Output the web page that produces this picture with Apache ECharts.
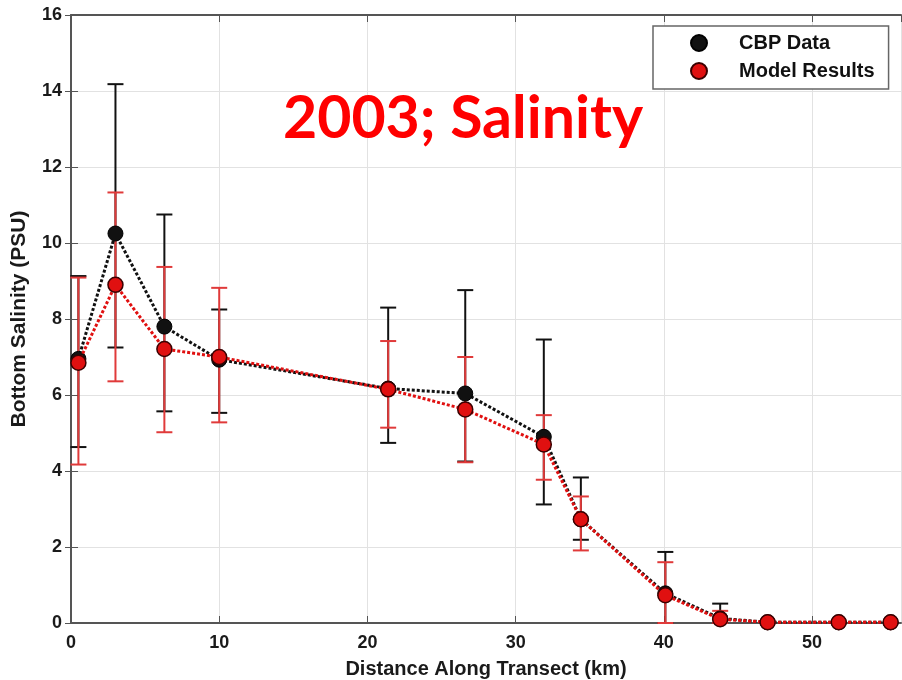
<!DOCTYPE html>
<html>
<head>
<meta charset="utf-8">
<script src="https://cdn.jsdelivr.net/npm/echarts@6/dist/echarts.min.js"></script>
<style>
html,body{margin:0;padding:0;background:#fff;}
#chart{width:902px;height:680px;}
</style>
</head>
<body>
<div id="chart"></div>
<script>
// ---- data ----
const distance   = [0.5, 3.0, 6.3, 10.0, 21.4, 26.6, 31.9, 34.4, 40.1, 43.8, 47.0, 51.8, 55.3];
const cbpMean    = [6.95, 10.25, 7.80, 6.93, 6.17, 6.04, 4.90, 2.73, 0.78, 0.12, 0.02, 0.02, 0.02];
const cbpLow     = [4.63, 7.25, 5.57, 5.53, 4.74, 4.25, 3.12, 2.19, 0.00, 0.00, null, null, null];
const cbpHigh    = [9.13, 14.18, 10.75, 8.25, 8.30, 8.76, 7.46, 3.83, 1.87, 0.51, null, null, null];
const modelMean  = [6.85, 8.90, 7.21, 7.00, 6.15, 5.62, 4.70, 2.73, 0.73, 0.10, 0.02, 0.02, 0.02];
const modelLow   = [4.17, 6.36, 5.02, 5.28, 5.14, 4.23, 3.77, 1.91, 0.00, 0.00, null, null, null];
const modelHigh  = [9.09, 11.33, 9.37, 8.82, 7.42, 7.00, 5.47, 3.33, 1.60, 0.32, null, null, null];
const seriesNames = ['CBP Data', 'Model Results'];
const annotation = '2003; Salinity';
const xTitle = 'Distance Along Transect (km)';
const yTitle = 'Bottom Salinity (PSU)';

const BLACK = '#111111';
const RED = '#e01010';
const RED_BAR = '#e03a3a';
const AXIS = '#555555';
const FONT = '"Liberation Sans", Arial, sans-serif';

function pairs(xs, ys) { return xs.map((x, i) => [x, ys[i]]); }
function bars(xs, lo, hi) {
  const out = [];
  xs.forEach((x, i) => { if (lo[i] != null && hi[i] != null) out.push([x, lo[i], hi[i]]); });
  return out;
}
function errRender(color) {
  return function (params, api) {
    const x = api.value(0), lo = api.value(1), hi = api.value(2);
    const pLo = api.coord([x, lo]);
    const pHi = api.coord([x, hi]);
    const hw = 8;
    const st = { stroke: color, lineWidth: 2 };
    return {
      type: 'group',
      children: [
        { type: 'line', shape: { x1: pLo[0], y1: pLo[1], x2: pHi[0], y2: pHi[1] }, style: st },
        { type: 'line', shape: { x1: pLo[0] - hw, y1: pLo[1], x2: pLo[0] + hw, y2: pLo[1] }, style: st },
        { type: 'line', shape: { x1: pHi[0] - hw, y1: pHi[1], x2: pHi[0] + hw, y2: pHi[1] }, style: st }
      ]
    };
  };
}

const chart = echarts.init(document.getElementById('chart'), null, { renderer: 'canvas' });
const axisLabelStyle = { color: '#1a1a1a', fontFamily: FONT, fontWeight: 'bold', fontSize: 18 };

chart.setOption({
  animation: false,
  backgroundColor: '#ffffff',
  grid: { left: 71, top: 15, width: 830, height: 608, containLabel: false, outerBoundsMode: 'none' },
  legend: {
    data: seriesNames.map(n => ({ name: n, icon: 'circle' })),
    orient: 'vertical',
    left: 653, top: 26,
    itemWidth: 16, itemHeight: 16, itemGap: 8,
    padding: [7, 14, 8, 37],
    backgroundColor: '#ffffff',
    borderColor: '#666666', borderWidth: 1.5,
    textStyle: { color: '#111', fontFamily: FONT, fontWeight: 'bold', fontSize: 20, lineHeight: 20, padding: [0, 0, 0, 27] }
  },
  graphic: [{
    type: 'text', x: 463, y: 119,
    style: {
      text: annotation, fill: '#ff0000',
      font: 'bold 59px Lato, "Open Sans", sans-serif',
      textAlign: 'center', textVerticalAlign: 'middle'
    },
    z: 100
  }],
  xAxis: [{
    type: 'value', min: 0, max: 56, interval: 10, position: 'bottom',
    name: xTitle, nameLocation: 'middle', nameGap: 36,
    nameTextStyle: { color: '#1a1a1a', fontFamily: FONT, fontWeight: 'bold', fontSize: 20 },
    axisLine: { show: true, onZero: false, lineStyle: { color: AXIS, width: 2 } },
    axisTick: { show: true, inside: true, length: 7, lineStyle: { color: AXIS, width: 1 } },
    axisLabel: { ...axisLabelStyle, margin: 11, showMaxLabel: false,
      formatter: v => (v % 10 === 0 ? String(v) : '') },
    splitLine: { show: true, lineStyle: { color: '#e2e2e2', width: 1 } }
  }, {
    type: 'value', min: 0, max: 56, interval: 10, position: 'top',
    axisLine: { show: true, onZero: false, lineStyle: { color: AXIS, width: 2 } },
    axisTick: { show: true, inside: true, length: 7, lineStyle: { color: AXIS, width: 1 } },
    axisLabel: { show: false }, splitLine: { show: false }
  }],
  yAxis: [{
    type: 'value', min: 0, max: 16, interval: 2, position: 'left',
    name: yTitle, nameLocation: 'middle', nameGap: 41, nameRotate: 90,
    nameTextStyle: { color: '#1a1a1a', fontFamily: FONT, fontWeight: 'bold', fontSize: 21 },
    axisLine: { show: true, onZero: false, lineStyle: { color: AXIS, width: 2 } },
    axisTick: { show: true, inside: true, length: 7, lineStyle: { color: AXIS, width: 1 } },
    axisLabel: { ...axisLabelStyle, margin: 9 },
    splitLine: { show: true, lineStyle: { color: '#e2e2e2', width: 1 } }
  }, {
    type: 'value', min: 0, max: 16, interval: 2, position: 'right',
    axisLine: { show: false },
    axisTick: { show: true, inside: true, length: 6, lineStyle: { color: AXIS, width: 1 } },
    axisLabel: { show: false }, splitLine: { show: false }
  }],
  series: [
    {
      name: 'cbpErr', type: 'custom', renderItem: errRender(BLACK),
      data: bars(distance, cbpLow, cbpHigh), encode: { x: 0, y: [1, 2] }, z: 2, silent: true
    },
    {
      name: 'modelErr', type: 'custom', renderItem: errRender(RED_BAR),
      data: bars(distance, modelLow, modelHigh), encode: { x: 0, y: [1, 2] }, z: 3, silent: true
    },
    {
      name: seriesNames[0], type: 'line', data: pairs(distance, cbpMean),
      symbol: 'circle', symbolSize: 15,
      lineStyle: { color: BLACK, width: 3, type: [3, 2] },
      itemStyle: { color: BLACK, borderColor: '#000', borderWidth: 1 },
      z: 4
    },
    {
      name: seriesNames[1], type: 'line', data: pairs(distance, modelMean),
      symbol: 'circle', symbolSize: 15,
      lineStyle: { color: RED, width: 3, type: [3, 2] },
      itemStyle: { color: RED, borderColor: '#3a0000', borderWidth: 1.5 },
      z: 5
    }
  ]
});
</script>
</body>
</html>
